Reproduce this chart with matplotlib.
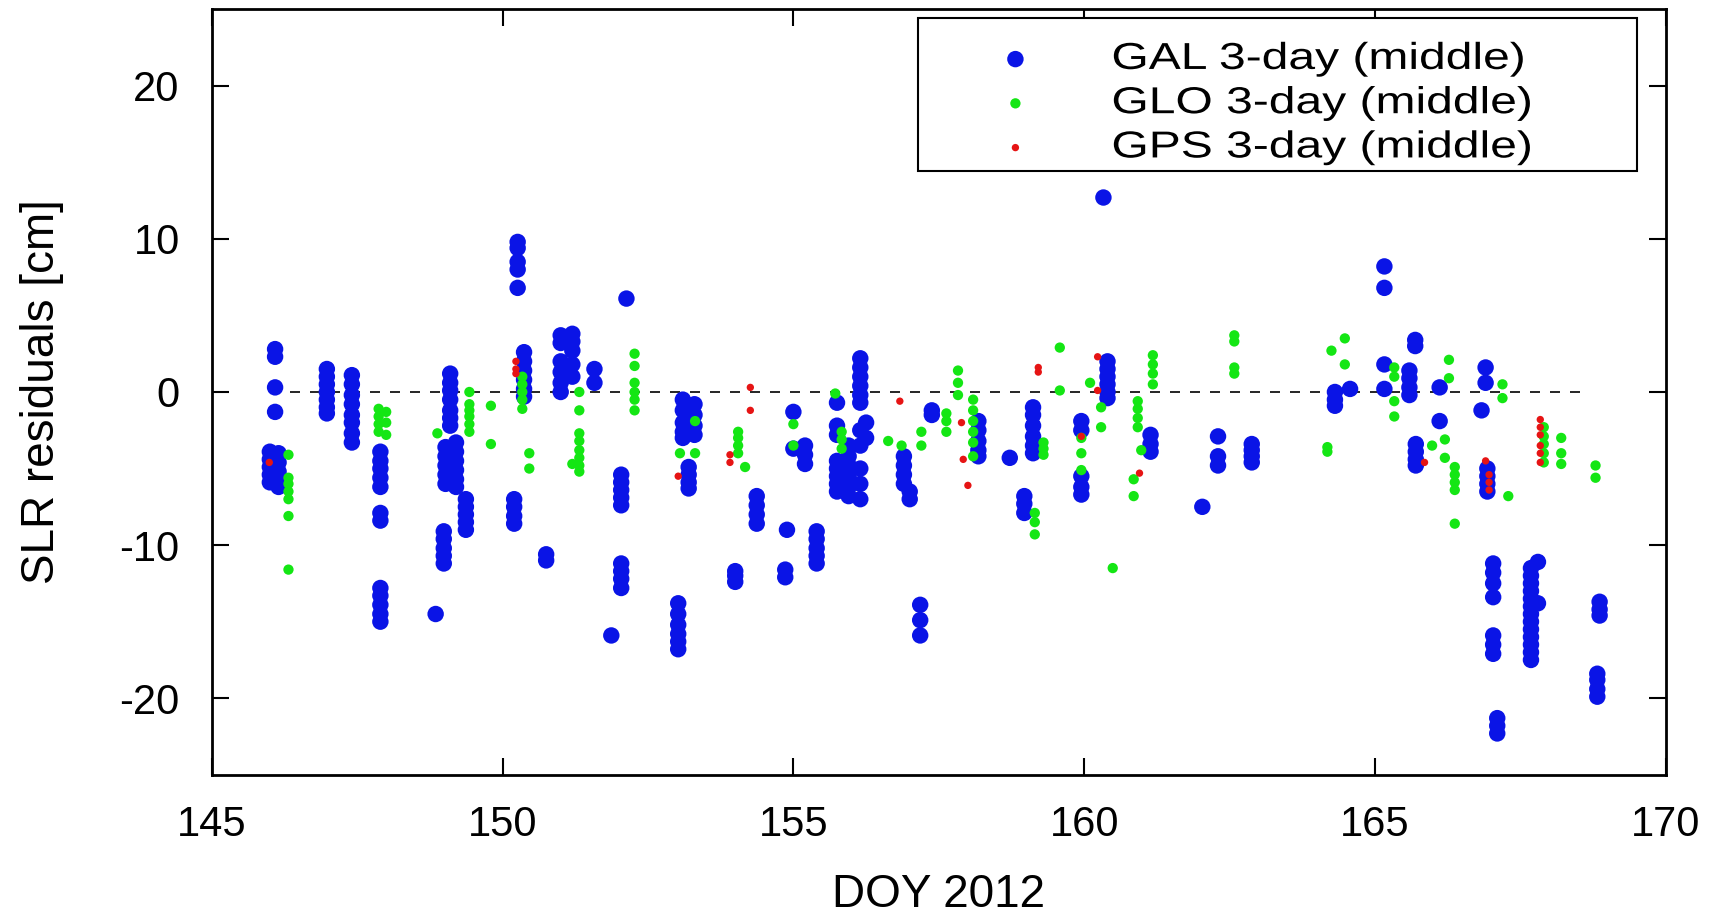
import numpy as np
import matplotlib
matplotlib.use('Agg')
import matplotlib.pyplot as plt
from matplotlib.patches import Rectangle
from matplotlib.patheffects import AbstractPathEffect
from matplotlib.transforms import Affine2D

plt.rcParams['font.family'] = ['Liberation Sans', 'DejaVu Sans']
plt.rcParams['axes.unicode_minus'] = False

# GAL 3-day (middle): DOY of each column, residuals [cm] in that column
gal_doy = [146.09, 146.0, 146.15, 146.98, 147.41, 147.9, 148.85, 148.99, 149.1, 149.02,
           149.2, 149.37, 150.2, 150.26, 150.37, 150.75, 151.0, 151.2, 151.58, 151.87,
           152.04, 152.13, 153.02, 153.1, 153.2, 153.3, 154.0, 154.37, 154.86, 154.89,
           155.0, 155.2, 155.4, 155.75, 155.95, 156.15, 156.25, 156.9, 157.0, 157.18,
           157.38, 158.18, 158.72, 158.97, 159.12, 159.95, 160.33, 160.4, 161.14, 162.03,
           162.3, 162.88, 164.31, 164.57, 165.16, 165.69, 165.59, 165.7, 166.11, 166.83,
           166.9, 166.93, 167.03, 167.1, 167.68, 167.8, 168.86, 168.82]
gal_res = [[2.8, 2.3, 0.3, -1.3],
           [-3.9, -4.4, -4.9, -5.4, -5.9],
           [-4.0, -4.6, -5.2, -5.8, -6.2],
           [1.5, 1.0, 0.5, 0.0, -0.5, -1.0, -1.4],
           [1.1, 0.5, -0.2, -0.8, -1.5, -2.0, -2.7, -3.3],
           [-3.9, -4.5, -5.0, -5.6, -6.2, -7.9, -8.4, -12.8, -13.3, -13.9, -14.5, -15.0],
           [-14.5],
           [-9.1, -9.6, -10.2, -10.7, -11.2],
           [1.2, 0.6, 0.1, -0.5, -1.2, -1.7, -2.2],
           [-3.6, -4.2, -4.8, -5.4, -6.0],
           [-3.3, -3.9, -4.5, -5.1, -5.7, -6.2],
           [-7.0, -7.5, -8.0, -8.5, -9.0],
           [-7.0, -7.5, -8.1, -8.6],
           [9.8, 9.4, 8.5, 8.0, 6.8],
           [2.6, 2.0, 1.4, 0.8, 0.2, -0.3],
           [-10.6, -11.0],
           [3.7, 3.2, 2.0, 1.3, 0.6, 0.0],
           [3.8, 3.3, 2.7, 1.8, 1.0],
           [1.5, 0.6],
           [-15.9],
           [-5.4, -5.9, -6.4, -6.9, -7.4, -11.2, -11.7, -12.2, -12.8],
           [6.1],
           [-13.8, -14.5, -15.2, -15.8, -16.3, -16.8],
           [-0.5, -1.2, -2.0, -2.6, -3.0],
           [-4.9, -5.4, -5.9, -6.3],
           [-0.8, -1.5, -2.2, -2.8],
           [-11.7, -12.0, -12.4],
           [-6.8, -7.4, -8.0, -8.6],
           [-11.6, -12.1],
           [-9.0],
           [-1.3, -3.7],
           [-3.5, -4.1, -4.7],
           [-9.1, -9.6, -10.2, -10.7, -11.2],
           [-0.7, -2.2, -2.8, -4.5, -5.0, -5.5, -6.0, -6.5],
           [-3.5, -4.2, -4.8, -5.5, -6.2, -6.8],
           [2.2, 1.6, 1.0, 0.4, -0.2, -0.7, -2.5, -3.5, -5.0, -6.0, -7.0],
           [-2.0, -3.0],
           [-4.2, -4.8, -5.4, -6.0],
           [-6.5, -7.0],
           [-13.9, -14.9, -15.9],
           [-1.2, -1.5],
           [-1.9, -2.5, -3.2, -3.8, -4.2],
           [-4.3],
           [-6.8, -7.3, -7.9],
           [-1.0, -1.5, -2.2, -2.9, -3.5, -4.0],
           [-1.9, -2.5, -5.5, -6.2, -6.7],
           [12.7],
           [2.0, 1.5, 1.0, 0.5, 0.0, -0.4],
           [-2.8, -3.4, -3.9],
           [-7.5],
           [-2.9, -4.2, -4.8],
           [-3.4, -3.8, -4.2, -4.6],
           [0.0, -0.5, -0.9],
           [0.2],
           [8.2, 6.8, 1.8, 0.2],
           [3.4, 3.0],
           [1.4, 0.9, 0.3, -0.2],
           [-3.4, -3.9, -4.4, -4.8],
           [0.3, -1.9],
           [-1.2],
           [1.6, 0.6],
           [-5.0, -5.5, -6.0, -6.5],
           [-11.2, -11.8, -12.5, -13.4, -15.9, -16.5, -17.1],
           [-21.3, -21.8, -22.3],
           [-11.5, -12.0, -12.5, -13.0, -13.5, -14.0, -14.5, -15.0, -15.5, -16.0, -16.5, -17.0, -17.5],
           [-11.1, -13.8],
           [-13.7, -14.2, -14.6],
           [-18.4, -18.8, -19.4, -19.9]]

# GLO 3-day (middle)
glo_doy = [146.32, 147.87, 148.0, 148.88, 149.43, 149.8, 150.34, 150.46, 151.2, 151.32,
           152.27, 153.05, 153.31, 154.05, 154.17, 155.0, 155.72, 155.83, 156.63, 156.86,
           157.2, 157.63, 157.83, 158.09, 159.15, 159.3, 159.58, 159.95, 160.1, 160.29,
           160.49, 160.85, 160.92, 160.98, 161.18, 162.58, 164.18, 164.25, 164.48, 165.33,
           165.98, 166.2, 166.27, 166.37, 167.19, 167.29, 167.9, 168.2, 168.79]
glo_res = [[-4.1, -5.6, -6.0, -6.5, -7.0, -8.1, -11.6],
           [-1.1, -1.6, -2.1, -2.6],
           [-1.3, -2.0, -2.8],
           [-2.7],
           [0.0, -0.8, -1.2, -1.6, -2.1, -2.6],
           [-0.9, -3.4],
           [1.0, 0.5, 0.0, -0.5, -1.1],
           [-4.0, -5.0],
           [-4.7],
           [0.0, -1.2, -2.7, -3.2, -3.8, -4.3, -4.8, -5.2],
           [2.5, 1.7, 0.6, 0.0, -0.5, -1.2],
           [-4.0],
           [-1.9, -4.0],
           [-2.6, -3.0, -3.5, -4.0],
           [-4.9],
           [-2.1, -3.5],
           [-0.1],
           [-2.6, -3.1, -3.7],
           [-3.2],
           [-3.5],
           [-2.6, -3.5],
           [-1.4, -1.9, -2.6],
           [1.4, 0.6, -0.2],
           [-0.5, -1.2, -1.9, -2.6, -3.3, -4.2],
           [-7.9, -8.5, -9.3],
           [-3.3, -3.7, -4.1],
           [2.9, 0.1],
           [-3.0, -4.0, -5.1],
           [0.6],
           [-1.0, -2.3],
           [-11.5],
           [-5.7, -6.8],
           [-0.6, -1.1, -1.7, -2.3],
           [-3.8],
           [2.4, 1.8, 1.2, 0.5],
           [3.7, 3.3, 1.6, 1.2],
           [-3.6, -3.9],
           [2.7],
           [3.5, 1.8],
           [1.6, 1.0, -0.6, -1.6],
           [-3.5],
           [-3.1, -4.3],
           [2.1, 0.9],
           [-4.9, -5.4, -5.9, -6.4, -8.6],
           [0.5, -0.4],
           [-6.8],
           [-2.3, -2.9, -3.4, -4.0, -4.6],
           [-3.0, -4.0, -4.7],
           [-4.8, -5.6]]

# GPS 3-day (middle)
gps_doy = [145.99, 150.23, 153.02, 153.91, 154.26, 156.83, 157.89, 157.92, 158.0, 159.21,
           159.95, 160.23, 160.95, 165.85, 166.9, 166.96, 167.84]
gps_res = [[-4.6],
           [2.0, 1.5, 1.2],
           [-5.5],
           [-4.1, -4.6],
           [0.3, -1.2],
           [-0.6],
           [-2.0],
           [-4.4],
           [-6.1],
           [1.3, 1.6],
           [-2.9],
           [2.3, 0.1],
           [-5.3],
           [-4.6],
           [-4.5],
           [-5.4, -5.9, -6.4],
           [-1.8, -2.3, -2.8, -3.5, -4.0, -4.6]]

labels = ['GAL 3-day (middle)', 'GLO 3-day (middle)', 'GPS 3-day (middle)']
zero_line = (146.0, 168.7)


def flatten(doy, res):
    x = np.concatenate([[d] * len(r) for d, r in zip(doy, res)])
    y = np.concatenate(res)
    return x, y


class Stretch(AbstractPathEffect):
    """draw text glyphs wider (the legend font in the original is stretched)"""

    def __init__(self, sx):
        super().__init__()
        self.sx = sx

    def draw_path(self, renderer, gc, tpath, affine, rgbFace=None):
        renderer.draw_path(gc, tpath, Affine2D().scale(self.sx, 1.0) + affine, rgbFace)


fig = plt.figure(figsize=(17.21, 9.18), dpi=100)
ax = fig.add_axes([0.123, 0.156, 0.845, 0.834])

# dashed zero line
ax.hlines(0, zero_line[0], zero_line[1], colors='black', linestyles=(0, (6, 6)),
          linewidth=1.2, zorder=1)

series = [(gal_doy, gal_res, '#0a14e6', 140),
          (glo_doy, glo_res, '#14e614', 55),
          (gps_doy, gps_res, '#e61414', 28)]
for (doy, res, col, s), lab in zip(series, labels):
    x, y = flatten(doy, res)
    ax.scatter(x, y, s=s, c=col, edgecolors='none', label=lab, zorder=2)

ax.set_xlim(145, 170)
ax.set_ylim(-25, 25)
ax.set_xticks(np.arange(145, 171, 5))
ax.set_yticks(np.arange(-20, 21, 10))
ax.tick_params(direction='in', length=12, width=1.5, labelsize=30,
               top=True, right=True)
ax.tick_params(axis='x', pad=22)
ax.tick_params(axis='y', pad=23)
for sp in ax.spines.values():
    sp.set_linewidth(2)

ax.set_xlabel('DOY 2012', fontsize=33, va='top')
ax.xaxis.set_label_coords(0.5, -0.128)
ax.set_ylabel('SLR residuals [cm]', fontsize=33, va='center')
ax.yaxis.set_label_coords(-0.117, 0.5)

# legend box in gnuplot style
ax.add_patch(Rectangle((0.486, 0.7885), 0.494, 0.2, transform=ax.transAxes,
                       facecolor='white', edgecolor='black', linewidth=1.5, zorder=4))
leg = ax.legend(loc='upper left', bbox_to_anchor=(0.514, 0.983), frameon=False,
                fontsize=27, handlelength=2.0, handletextpad=1.56, borderpad=0,
                labelspacing=0.22, scatterpoints=1)
leg.set_zorder(5)
for t in leg.get_texts():
    t.set_path_effects([Stretch(1.28)])

fig.savefig('out.png', dpi=100, facecolor='white')
